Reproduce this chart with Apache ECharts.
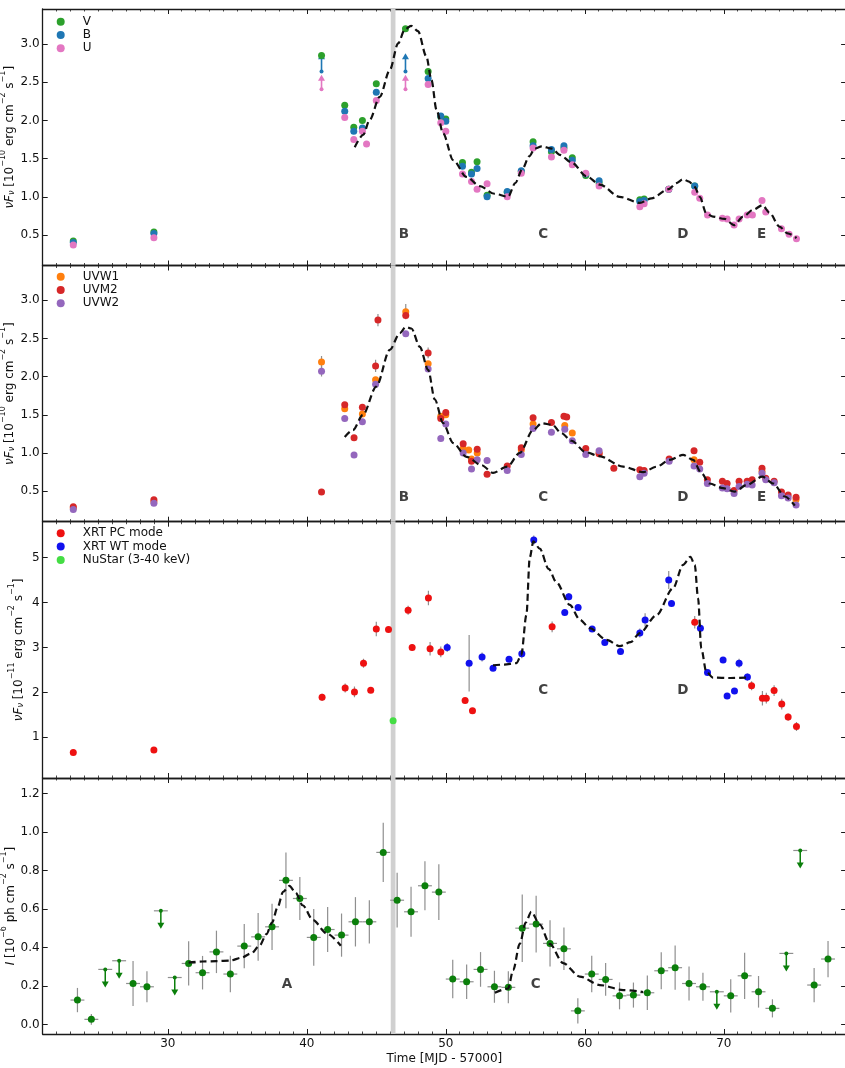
<!DOCTYPE html>
<html>
<head>
<meta charset="utf-8">
<script src="https://cdn.jsdelivr.net/npm/echarts@6/dist/echarts.min.js"></script>
<style>
  html, body { margin: 0; padding: 0; background: #fff; }
  #chart { width: 845px; height: 1068px; }
</style>
</head>
<body>
<div id="chart"></div>
<script>
// ---------- axis ticks ----------
const xMajorTicks = [30, 40, 50, 60, 70];
const xMinorTicks = [22,23,24,25,26,27,28,29,30,31,32,33,34,35,36,37,38,39,40,41,42,43,44,45,46,47,48,49,
                     50,51,52,53,54,55,56,57,58,59,60,61,62,63,64,65,66,67,68,69,70,71,72,73,74,75,76,77,78];
const yTicksOpt = [0.5, 1.0, 1.5, 2.0, 2.5, 3.0];
const yTicksUv  = [0.5, 1.0, 1.5, 2.0, 2.5, 3.0];
const yTicksX   = [1, 2, 3, 4, 5];
const yTicksG   = [0.0, 0.2, 0.4, 0.6, 0.8, 1.0, 1.2];

// ---------- optical (V, B, U) : [MJD-57000, nuFnu] ----------
const bandV = [[23.2,0.42],[29.0,0.54],[41.06,2.85],[42.73,2.20],[43.38,1.91],[44.0,2.00],[45.0,2.48],[47.1,3.20],
  [48.73,2.64],[49.64,2.05],[50.0,2.02],[51.2,1.45],[51.85,1.32],[52.25,1.46],[52.97,1.02],[54.42,1.06],[55.43,1.33],
  [56.28,1.72],[57.6,1.59],[58.5,1.64],[59.1,1.51],[60.07,1.28],[61.03,1.18],[63.96,0.96],[64.27,0.97],[66.04,1.10],[67.91,1.14]];
const bandB = [[23.2,0.40],[29.0,0.52],[42.73,2.12],[43.38,1.86],[44.0,1.90],[45.0,2.37],[48.73,2.55],[49.64,2.06],
  [50.0,1.99],[51.2,1.40],[51.85,1.30],[52.25,1.37],[52.97,1.00],[54.42,1.07],[55.43,1.34],[56.28,1.67],[57.6,1.62],
  [58.5,1.67],[59.1,1.48],[60.07,1.30],[61.03,1.21],[63.96,0.94],[64.27,0.95],[66.04,1.10],[67.91,1.14]];
const bandU = [[23.2,0.37],[29.0,0.465],[42.73,2.04],[43.38,1.75],[44.0,1.86],[44.3,1.69],[45.0,2.26],[48.73,2.47],
  [49.64,1.97],[50.0,1.86],[51.2,1.30],[51.85,1.20],[52.25,1.10],[52.97,1.17],[54.42,1.00],[55.43,1.31],[56.28,1.64],
  [57.6,1.52],[58.5,1.61],[59.1,1.42],[60.07,1.31],[61.03,1.14],[63.96,0.87],[64.27,0.91],[66.04,1.10],[67.91,1.06],
  [68.27,0.98],[68.83,0.76],[69.9,0.72],[70.24,0.71],[70.74,0.63],[71.1,0.71],[71.68,0.76],[72.06,0.76],[72.75,0.95],
  [73.02,0.80],[74.15,0.58],[74.7,0.51],[75.23,0.45]];
// lower limits: [MJD, measured, limit]
const limitsB = [[41.06,2.64,2.88],[47.1,2.64,2.88]];
const limitsU = [[41.06,2.41,2.60],[47.1,2.41,2.60]];
const optModel = [[43.45,1.65],[44.05,1.81],[44.53,2.01],[45.25,2.31],[45.97,2.66],[46.57,3.01],[47.05,3.19],[47.5,3.24],
  [48.0,3.17],[48.6,2.84],[48.97,2.53],[49.33,2.14],[49.81,1.83],[50.53,1.48],[51.49,1.26],[52.45,1.14],[53.5,1.04],
  [54.48,1.00],[55.0,1.18],[55.5,1.36],[56.0,1.53],[56.4,1.63],[56.9,1.66],[57.65,1.63],[58.2,1.55],[59.05,1.45],
  [60.12,1.27],[61.08,1.16],[62.5,1.00],[63.96,0.92],[64.8,0.98],[66.04,1.10],[66.6,1.18],[67.07,1.23],[67.5,1.20],
  [67.91,1.13],[68.27,1.00],[68.75,0.78],[69.23,0.74],[70.06,0.71],[70.74,0.63],[71.39,0.74],[72.1,0.83],[72.78,0.89],
  [73.3,0.79],[74.0,0.61],[74.6,0.52],[75.23,0.46]];

// ---------- UV (UVW1, UVM2, UVW2) ----------
const bandW1 = [[23.2,0.28],[29.0,0.36],[41.06,2.19],[42.73,1.58],[44.0,1.51],[44.95,1.96],[47.12,2.85],[48.73,2.17],
  [49.64,1.48],[50.0,1.50],[51.25,1.06],[51.65,1.04],[51.85,0.92],[52.26,1.00],[55.43,1.04],[56.28,1.38],[58.56,1.36],
  [59.1,1.26],[61.03,1.00],[67.86,0.91],[72.75,0.76],[75.2,0.39]];
const bandM2 = [[23.2,0.295],[29.0,0.386],[41.06,0.49],[42.73,1.63],[43.4,1.20],[44.0,1.60],[44.95,2.14],[45.12,2.74],
  [47.12,2.80],[48.73,2.31],[49.64,1.45],[50.0,1.53],[51.25,1.12],[51.85,0.89],[52.26,1.05],[52.97,0.72],[54.42,0.83],
  [55.43,1.07],[56.28,1.46],[57.6,1.40],[58.5,1.48],[58.7,1.47],[60.07,1.06],[61.03,0.99],[62.09,0.80],[63.96,0.78],
  [64.27,0.77],[66.07,0.92],[67.86,1.03],[68.27,0.88],[68.82,0.65],[69.9,0.63],[70.24,0.60],[70.74,0.51],[71.1,0.63],
  [71.68,0.63],[72.04,0.65],[72.75,0.80],[73.02,0.67],[73.62,0.63],[74.15,0.49],[74.63,0.45],[75.2,0.42]];
const bandW2 = [[23.2,0.26],[29.0,0.34],[41.06,2.07],[42.73,1.45],[43.4,0.975],[44.0,1.41],[44.95,1.90],[47.12,2.56],
  [48.73,2.10],[49.64,1.19],[50.0,1.38],[51.25,1.00],[51.85,0.79],[52.26,0.91],[52.97,0.90],[54.42,0.77],[55.43,0.98],
  [56.28,1.32],[57.6,1.27],[58.56,1.31],[59.1,1.16],[60.07,0.98],[61.03,1.03],[63.96,0.69],[64.27,0.735],[66.07,0.89],
  [67.86,0.83],[68.27,0.79],[68.82,0.60],[69.9,0.54],[70.24,0.53],[70.74,0.47],[71.1,0.56],[71.68,0.59],[72.04,0.58],
  [72.75,0.735],[73.02,0.65],[73.62,0.61],[74.15,0.44],[74.63,0.41],[75.2,0.32]];
// [MJD, nuFnu, 1-sigma]
const uvErrors = [[41.06,2.19,0.08],[41.06,2.07,0.07],[44.95,2.14,0.08],[45.12,2.74,0.08],[47.12,2.85,0.10],[48.73,2.31,0.07]];
const uvModel = [[42.73,1.21],[43.32,1.30],[44.04,1.50],[45.0,1.87],[45.97,2.35],[46.69,2.57],[47.12,2.65],[47.53,2.63],
  [48.13,2.39],[48.73,2.09],[49.21,1.70],[49.81,1.39],[50.53,1.13],[51.49,0.95],[52.57,0.84],[53.4,0.74],[54.42,0.82],
  [55.32,1.00],[56.28,1.30],[56.9,1.39],[57.65,1.37],[58.32,1.26],[59.04,1.16],[60.07,1.01],[61.03,0.96],[62.76,0.82],
  [64.2,0.75],[65.16,0.82],[66.1,0.91],[67.07,0.975],[67.79,0.91],[68.38,0.74],[68.98,0.60],[69.94,0.54],[70.78,0.495],
  [71.63,0.58],[72.78,0.69],[73.55,0.60],[74.4,0.43],[75.11,0.31]];

// ---------- X-ray : [MJD, nuFnu, 1-sigma] ----------
const xrtPC = [[23.2,0.66,0.03],[29.0,0.72,0.03],[41.1,1.89,0.08],[42.76,2.10,0.10],[43.43,2.01,0.12],[44.08,2.65,0.10],
  [44.6,2.05,0.05],[45.0,3.41,0.16],[45.88,3.40,0.05],[47.29,3.83,0.10],[47.58,3.00,0.08],[48.75,4.10,0.16],[48.87,2.97,0.15],
  [49.64,2.90,0.12],[51.39,1.82,0.05],[51.92,1.59,0.05],[57.65,3.46,0.12],[67.91,3.56,0.14],[72.0,2.15,0.10],[72.78,1.87,0.16],
  [73.06,1.87,0.12],[73.62,2.04,0.12],[74.17,1.74,0.12],[74.63,1.45,0.08],[75.23,1.24,0.10]];
const xrtWT = [[50.1,3.00,0.10],[51.68,2.65,0.63],[52.61,2.79,0.10],[53.4,2.54,0.05],[54.55,2.74,0.06],[55.47,2.86,0.10],
  [56.33,5.39,0.10],[58.56,3.78,0.06],[58.85,4.13,0.08],[59.52,3.89,0.06],[60.53,3.41,0.05],[61.44,3.11,0.05],[62.57,2.91,0.05],
  [63.96,3.32,0.10],[64.34,3.61,0.15],[66.04,4.50,0.20],[66.24,3.98,0.06],[68.32,3.43,0.10],[68.83,2.44,0.05],[69.95,2.72,0.06],
  [70.24,1.92,0.05],[70.77,2.03,0.05],[71.1,2.65,0.10],[71.7,2.34,0.08]];
const nustar = [[46.21,1.37,0.03]];
const xrayModel = [[53.4,2.60],[54.2,2.62],[55.08,2.65],[55.43,2.83],[55.8,3.72],[56.04,5.0],[56.3,5.36],[56.76,5.2],
  [57.4,4.75],[57.96,4.45],[58.92,3.95],[59.64,3.62],[60.36,3.43],[61.56,3.17],[62.52,3.03],[63.3,3.12],[63.96,3.32],
  [65.16,3.72],[66.35,4.32],[67.07,4.84],[67.6,5.02],[67.91,4.84],[68.15,4.10],[68.38,2.98],[68.74,2.46],[69.22,2.33],
  [70.5,2.32],[71.6,2.33]];

// ---------- gamma-ray daily bins : [bin centre, flux, 1-sigma] ----------
const gammaBinHalf = 0.5;
const gammaFlux = [[23.5,0.128,0.063],[24.5,0.028,0.028],[27.5,0.214,0.117],[28.5,0.197,0.08],[31.5,0.318,0.115],
  [32.5,0.27,0.087],[33.5,0.378,0.11],[34.5,0.263,0.095],[35.5,0.408,0.115],[36.5,0.456,0.124],[37.5,0.508,0.12],
  [38.5,0.749,0.145],[39.5,0.655,0.112],[40.5,0.453,0.147],[41.5,0.494,0.117],[42.5,0.465,0.112],[43.5,0.534,0.128],
  [44.5,0.534,0.112],[45.5,0.894,0.154],[46.5,0.646,0.142],[47.5,0.586,0.13],[48.5,0.721,0.127],[49.5,0.688,0.145],
  [50.5,0.237,0.1],[51.5,0.223,0.09],[52.5,0.287,0.09],[53.5,0.197,0.083],[54.5,0.194,0.083],[55.5,0.501,0.175],
  [56.5,0.522,0.147],[57.5,0.422,0.12],[58.5,0.394,0.11],[59.5,0.072,0.065],[60.5,0.263,0.095],[61.5,0.235,0.085],
  [62.5,0.15,0.07],[63.5,0.154,0.065],[64.5,0.166,0.09],[65.5,0.28,0.096],[66.5,0.296,0.115],[67.5,0.214,0.088],
  [68.5,0.197,0.073],[70.5,0.15,0.086],[71.5,0.254,0.12],[72.5,0.171,0.082],[73.5,0.085,0.047],[76.5,0.206,0.089],
  [77.5,0.341,0.094]];
const gammaUpper = [[25.5,0.287],[26.5,0.332],[29.5,0.591],[30.5,0.245],[69.5,0.171],[74.5,0.37],[75.5,0.904]];
const gammaModelA = [[31.5,0.322],[32.5,0.328],[33.5,0.33],[34.5,0.333],[35.3,0.348],[36.0,0.37],[36.6,0.41],[37.1,0.47],
  [37.5,0.53],[37.9,0.61],[38.3,0.69],[38.75,0.72],[39.2,0.685],[39.7,0.62],[40.45,0.543],[41.42,0.474],[42.45,0.41]];
const gammaModelC = [[53.53,0.166],[54.48,0.188],[54.85,0.283],[55.32,0.42],[55.75,0.53],[56.15,0.586],[56.76,0.52],
  [57.48,0.42],[58.44,0.32],[59.64,0.25],[61.08,0.206],[62.76,0.18],[64.2,0.17]];

// ---------- flare labels : [letter, MJD] ----------
const flaresOpt = [['B',46.98],['C',57.0],['D',67.05],['E',72.72]];
const flaresUv  = [['B',46.98],['C',57.0],['D',67.05],['E',72.72]];
const flaresX   = [['C',57.0],['D',67.05]];
const flaresG   = [['A',38.58],['C',56.47]];

// NuSTAR pointing epoch
const nustarEpoch = 46.21;

// ---------- layout / style ----------
const FONT = 'DejaVu Sans';
const INK = '#111';
const AXIS = '#1a1a1a';
const ERR = '#8f8f8f';
const XMIN = 21, XMAX = 78.8;
const panels = [
  { top: 9,     height: 256.5, min: 0.1,    max: 3.46,  ticks: yTicksOpt, dec: 1, labelY: 0.51,  nameGap: 26.5 },
  { top: 265.5, height: 256.2, min: 0.1,    max: 3.455, ticks: yTicksUv,  dec: 1, labelY: 0.415, nameGap: 26.5 },
  { top: 521.7, height: 256.3, min: 0.094,  max: 5.8,   ticks: yTicksX,   dec: 0, labelY: 2.05,  nameGap: 17.5 },
  { top: 778,   height: 256,   min: -0.048, max: 1.28,  ticks: yTicksG,   dec: 1, labelY: 0.211, nameGap: 26 }
];

const nameRich = {
  it:  { fontFamily: FONT, fontStyle: 'italic', fontSize: 12, lineHeight: 17, verticalAlign: 'bottom', color: INK },
  t:   { fontFamily: FONT, fontSize: 12, lineHeight: 17, verticalAlign: 'bottom', color: INK },
  sub: { fontFamily: FONT, fontStyle: 'italic', fontSize: 8, lineHeight: 7, verticalAlign: 'bottom', color: INK },
  sup: { fontFamily: FONT, fontSize: 8, lineHeight: 10, verticalAlign: 'top', color: INK }
};
const yNames = [
  '{it|νF}{sub|ν}{t| [10}{sup|−10}{t| erg cm}{sup|−2}{t| s}{sup|−1}{t|]}',
  '{it|νF}{sub|ν}{t| [10}{sup|−10}{t| erg cm}{sup|−2}{t| s}{sup|−1}{t|]}',
  '{it|νF}{sub|ν}{t| [10}{sup|−11}{t| erg cm}{sup|−2}{t| s}{sup|−1}{t|]}',
  '{it|I}{t| [10}{sup|−6}{t| ph cm}{sup|−2}{t| s}{sup|−1}{t|]}'
];

// ---------- axes ----------
const xAxes = [], yAxes = [], grids = [];
panels.forEach((p, i) => {
  grids.push({ left: 42.7, width: 803.4, top: p.top, height: p.height, containLabel: false, outerBoundsMode: 'none' });
  const base = { gridIndex: i, type: 'value', min: XMIN, max: XMAX, splitLine: { show: false } };
  const line = { show: true, onZero: false, lineStyle: { color: AXIS, width: 1.3 } };
  const majorTick = { show: true, inside: true, length: 5, customValues: xMajorTicks, lineStyle: { color: AXIS, width: 1 } };
  const minorTick = { show: true, inside: true, length: 2.5, customValues: xMinorTicks, lineStyle: { color: AXIS, width: 0.8 } };
  const bottom = i === panels.length - 1;
  xAxes.push(
    { ...base, position: 'bottom', axisLine: line, axisTick: majorTick,
      axisLabel: { show: bottom, customValues: xMajorTicks, margin: 4, fontSize: 12, color: INK, fontFamily: FONT },
      name: bottom ? 'Time [MJD - 57000]' : '', nameLocation: 'middle', nameGap: 19, nameMoveOverlap: false,
      nameTextStyle: { fontSize: 12, color: INK, fontFamily: FONT } },
    { ...base, position: 'bottom', axisLine: { show: false, onZero: false }, axisTick: minorTick, axisLabel: { show: false } },
    { ...base, position: 'top', axisLine: line, axisTick: majorTick, axisLabel: { show: false } },
    { ...base, position: 'top', axisLine: { show: false, onZero: false }, axisTick: minorTick, axisLabel: { show: false } }
  );
  const yTick = { show: true, inside: true, length: 5, customValues: p.ticks, lineStyle: { color: AXIS, width: 1 } };
  yAxes.push(
    { gridIndex: i, type: 'value', min: p.min, max: p.max, position: 'left', splitLine: { show: false },
      axisLine: line, axisTick: yTick,
      axisLabel: { customValues: p.ticks, margin: 3, fontSize: 12, color: INK, fontFamily: FONT,
                   formatter: v => v.toFixed(p.dec) },
      name: yNames[i], nameLocation: 'middle', nameRotate: 90, nameGap: p.nameGap, nameMoveOverlap: false,
      nameTextStyle: { fontFamily: FONT, fontSize: 12, color: INK, rich: nameRich } },
    { gridIndex: i, type: 'value', min: p.min, max: p.max, position: 'right', splitLine: { show: false },
      axisLine: line, axisTick: yTick, axisLabel: { show: false } }
  );
});

// ---------- series helpers ----------
const ax = i => ({ xAxisIndex: 4 * i, yAxisIndex: 2 * i });

function dots(i, name, data, color) {
  return { type: 'scatter', name, ...ax(i), data, symbol: 'circle', symbolSize: 7,
           itemStyle: { color, opacity: 1, borderWidth: 0 }, z: 5, animation: false };
}

function yErrorBars(i, data) {
  return { type: 'custom', ...ax(i), data, z: 3, silent: true, clip: true, encode: { x: 0, y: 1 },
    renderItem: (params, api) => {
      const x = api.value(0), y = api.value(1), e = api.value(2);
      const a = api.coord([x, y + e]), b = api.coord([x, y - e]);
      return { type: 'line', shape: { x1: a[0], y1: a[1], x2: b[0], y2: b[1] },
               style: { stroke: ERR, lineWidth: 1.2 } };
    } };
}

function binnedErrorBars(i, data) {
  return { type: 'custom', ...ax(i), data, z: 3, silent: true, clip: true, encode: { x: 0, y: 1 },
    renderItem: (params, api) => {
      const x = api.value(0), y = api.value(1), e = api.value(2);
      const t = api.coord([x, y + e]), b = api.coord([x, y - e]);
      const l = api.coord([x - gammaBinHalf, y]), r = api.coord([x + gammaBinHalf, y]);
      return { type: 'group', children: [
        { type: 'line', shape: { x1: t[0], y1: t[1], x2: b[0], y2: b[1] }, style: { stroke: ERR, lineWidth: 1.2 } },
        { type: 'line', shape: { x1: l[0], y1: l[1], x2: r[0], y2: r[1] }, style: { stroke: ERR, lineWidth: 1.2 } }
      ] };
    } };
}

function upperLimits(i, data, color) {
  return { type: 'custom', ...ax(i), data, z: 4, silent: true, clip: true, encode: { x: 0, y: 1 },
    renderItem: (params, api) => {
      const x = api.value(0), u = api.value(1);
      const c = api.coord([x, u]);
      const l = api.coord([x - gammaBinHalf, u]), r = api.coord([x + gammaBinHalf, u]);
      return { type: 'group', children: [
        { type: 'line', shape: { x1: l[0], y1: l[1], x2: r[0], y2: r[1] }, style: { stroke: ERR, lineWidth: 1.2 } },
        { type: 'line', shape: { x1: c[0], y1: c[1], x2: c[0], y2: c[1] + 13 }, style: { stroke: color, lineWidth: 1.5 } },
        { type: 'polygon', shape: { points: [[c[0] - 3.5, c[1] + 12], [c[0] + 3.5, c[1] + 12], [c[0], c[1] + 18]] },
          style: { fill: color } },
        { type: 'circle', shape: { cx: c[0], cy: c[1], r: 2 }, style: { fill: color } }
      ] };
    } };
}

function lowerLimits(i, data, color) {
  return { type: 'custom', ...ax(i), data, z: 4, silent: true, clip: true, encode: { x: 0, y: 1 },
    renderItem: (params, api) => {
      const x = api.value(0);
      const a = api.coord([x, api.value(1)]), b = api.coord([x, api.value(2)]);
      return { type: 'group', children: [
        { type: 'line', shape: { x1: a[0], y1: a[1], x2: b[0], y2: b[1] + 4 }, style: { stroke: color, lineWidth: 1.6 } },
        { type: 'polygon', shape: { points: [[b[0] - 3.5, b[1] + 6], [b[0] + 3.5, b[1] + 6], [b[0], b[1]]] },
          style: { fill: color } },
        { type: 'circle', shape: { cx: a[0], cy: a[1], r: 2 }, style: { fill: color } }
      ] };
    } };
}

function model(i, data) {
  return { type: 'line', ...ax(i), data, showSymbol: false, smooth: 0.3, smoothMonotone: 'x', silent: true,
           lineStyle: { color: INK, width: 2.2, type: [7, 4] }, z: 6 };
}

function epochBand(i) {
  return { type: 'custom', ...ax(i), data: [[nustarEpoch, panels[i].min]], z: 1, silent: true,
    renderItem: (params, api) => {
      const cs = params.coordSys;
      const a = api.coord([api.value(0) - 0.17, api.value(1)]);
      const b = api.coord([api.value(0) + 0.17, api.value(1)]);
      return { type: 'rect', shape: { x: a[0], y: cs.y, width: b[0] - a[0], height: cs.height },
               style: { fill: '#d0d0d0' } };
    } };
}

function flareLabels(i, list) {
  return { type: 'scatter', ...ax(i), symbolSize: 0, silent: true, z: 7,
    data: list.map(f => ({ name: f[0], value: [f[1], panels[i].labelY] })),
    label: { show: true, position: 'inside', formatter: '{b}', fontFamily: FONT, fontWeight: 'bold',
             fontSize: 13.5, color: INK } };
}

// ---------- colours ----------
const C = { V: '#2ca02c', B: '#1f77b4', U: '#e377c2', W1: '#ff7f0e', M2: '#d62728', W2: '#9467bd',
            PC: '#ee1111', WT: '#1111ee', NU: '#44dd44', G: '#0b7f0b' };

const series = [
  epochBand(0), epochBand(1), epochBand(2), epochBand(3),
  // optical
  lowerLimits(0, limitsB, C.B), lowerLimits(0, limitsU, C.U),
  dots(0, 'V', bandV, C.V), dots(0, 'B', bandB, C.B), dots(0, 'U', bandU, C.U),
  model(0, optModel), flareLabels(0, flaresOpt),
  // UV
  yErrorBars(1, uvErrors),
  dots(1, 'UVW1', bandW1, C.W1), dots(1, 'UVM2', bandM2, C.M2), dots(1, 'UVW2', bandW2, C.W2),
  model(1, uvModel), flareLabels(1, flaresUv),
  // X-ray
  yErrorBars(2, xrtPC), yErrorBars(2, xrtWT),
  dots(2, 'XRT PC mode', xrtPC, C.PC), dots(2, 'XRT WT mode', xrtWT, C.WT), dots(2, 'NuStar (3-40 keV)', nustar, C.NU),
  model(2, xrayModel), flareLabels(2, flaresX),
  // gamma-ray
  binnedErrorBars(3, gammaFlux), upperLimits(3, gammaUpper, C.G),
  dots(3, 'gamma', gammaFlux, C.G),
  model(3, gammaModelA), model(3, gammaModelC), flareLabels(3, flaresG)
];

const legendBase = { orient: 'vertical', left: 56.7, padding: 0, itemWidth: 8, itemHeight: 8, itemGap: 0.3,
  icon: 'circle', selectedMode: false,
  textStyle: { fontFamily: FONT, fontSize: 12, color: INK, lineHeight: 13, padding: [0, 0, 0, 13] } };

const option = {
  animation: false,
  backgroundColor: '#ffffff',
  textStyle: { fontFamily: FONT },
  grid: grids,
  xAxis: xAxes,
  yAxis: yAxes,
  legend: [
    { ...legendBase, top: 15.2, data: ['V', 'B', 'U'] },
    { ...legendBase, top: 270.2, data: ['UVW1', 'UVM2', 'UVW2'] },
    { ...legendBase, top: 526.8, data: ['XRT PC mode', 'XRT WT mode', 'NuStar (3-40 keV)'] }
  ],
  series
};

const chart = echarts.init(document.getElementById('chart'), null, { renderer: 'canvas' });
chart.setOption(option);
</script>
</body>
</html>
